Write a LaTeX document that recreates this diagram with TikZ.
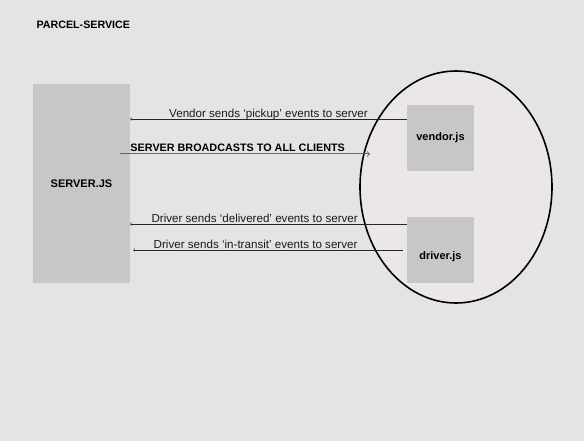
\documentclass[tikz,border=0pt]{standalone}
\usepackage{fontspec}
\setmainfont{Liberation Sans}
\usetikzlibrary{positioning}

\definecolor{bggray}{HTML}{E4E4E4}
\definecolor{boxgray}{HTML}{C7C7C7}
\definecolor{clientfill}{HTML}{EBE7E7}

\tikzset{
  box/.style={fill=boxgray, inner sep=0pt, font=\fontsize{11}{13}\selectfont\bfseries},
  msg/.style={thin, black!85, ->, >=to},
  msglabel/.style={above, inner sep=1.5pt, font=\fontsize{11.6}{13}\selectfont, text=black!90}
}

\begin{document}
\begin{tikzpicture}[x=1pt,y=-1pt]
  \useasboundingbox[fill=bggray] (0,0) rectangle (584,441);

  \node[font=\fontsize{10.7}{12}\selectfont\bfseries, anchor=west] (title) at (33,25) {PARCEL-SERVICE};

  % server and clients
  \node[box, minimum width=97pt, minimum height=198pt] (server) at (81.5,183.5) {SERVER.JS};
  \draw[line width=1.6pt, fill=clientfill] (456,187) ellipse [x radius=96, y radius=116];
  \coordinate (clients) at (360,187);
  \node[box, minimum width=67pt, minimum height=66pt] (vendor) at (440.5,138) {vendor.js};
  \node[box, minimum width=67pt, minimum height=66pt, text height=22pt, text depth=2.5pt] (driver) at (440.5,250) {driver.js};

  % messages
  \draw[msg] (vendor.west |- 0,119) -- node[msglabel, pos=.5, yshift=-3pt] {Vendor sends `pickup' events to server} (server.east |- 0,119);
  \draw[msg, line width=1pt, black!60, shorten >=-10pt] ([xshift=-10pt]server.east |- 0,154) -- node[msglabel, pos=.49, text=black, font=\fontsize{10.8}{12}\selectfont\bfseries] {SERVER BROADCASTS TO ALL CLIENTS} (clients |- 0,154);
  \draw[msg] (driver.west |- 0,224) -- node[msglabel, pos=.55] {Driver sends `delivered' events to server} (server.east |- 0,224);
  \draw[msg] ([xshift=-4pt]driver.west |- 0,250) -- node[msglabel, pos=.546] {Driver sends `in-transit' events to server} ([xshift=3pt]server.east |- 0,250);
\end{tikzpicture}
\end{document}
